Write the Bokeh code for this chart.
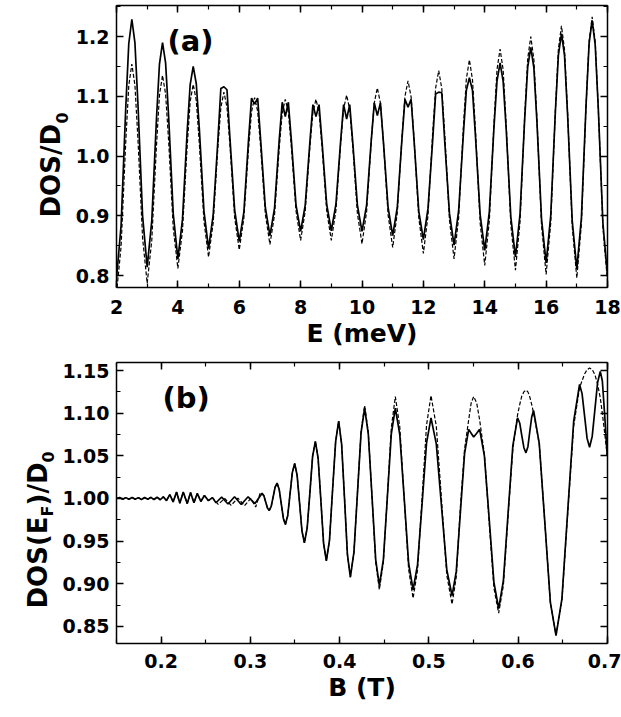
import math
from bokeh.plotting import figure
from bokeh.models import LinearAxis, SingleIntervalTicker, NumeralTickFormatter, Label, Range1d
from bokeh.layouts import column, row
from bokeh.core.properties import value
from bokeh.embed import file_html
from bokeh.resources import INLINE

FONT = "DejaVu Sans"

# ---------------- Panel (a): DOS/D0 versus E (meV) ----------------
E_a = [
    2.0, 2.15, 2.3, 2.4, 2.5, 2.6, 2.7, 2.85,
    3.0, 3.15, 3.3, 3.4, 3.5, 3.6, 3.7, 3.85,
    4.0, 4.15, 4.3, 4.4, 4.5, 4.6, 4.7, 4.85,
    5.0, 5.15, 5.3, 5.4, 5.5, 5.6, 5.7, 5.85,
    6.0, 6.15, 6.3, 6.4, 6.5, 6.6, 6.7, 6.85,
    7.0, 7.15, 7.3, 7.4, 7.5, 7.6, 7.7, 7.85,
    8.0, 8.15, 8.3, 8.4, 8.5, 8.6, 8.7, 8.85,
    9.0, 9.15, 9.3, 9.4, 9.5, 9.6, 9.7, 9.85,
    10.0, 10.15, 10.3, 10.4, 10.5, 10.6, 10.7, 10.85,
    11.0, 11.15, 11.3, 11.4, 11.5, 11.6, 11.7, 11.85,
    12.0, 12.15, 12.3, 12.4, 12.5, 12.6, 12.7, 12.85,
    13.0, 13.15, 13.3, 13.4, 13.5, 13.6, 13.7, 13.85,
    14.0, 14.15, 14.3, 14.4, 14.5, 14.6, 14.7, 14.85,
    15.0, 15.15, 15.3, 15.4, 15.5, 15.6, 15.7, 15.85,
    16.0, 16.15, 16.3, 16.4, 16.5, 16.6, 16.7, 16.85,
    17.0, 17.15, 17.3, 17.4, 17.5, 17.6, 17.7, 17.85,
    18.0,
]
dos_a_solid = [
    0.795, 0.884, 1.079, 1.188, 1.229, 1.190, 1.086, 0.900,
    0.814, 0.892, 1.060, 1.154, 1.190, 1.156, 1.065, 0.903,
    0.828, 0.894, 1.039, 1.119, 1.150, 1.121, 1.045, 0.908,
    0.845, 0.901, 1.023, 1.113, 1.116, 1.111, 1.027, 0.910,
    0.857, 0.906, 1.025, 1.097, 1.087, 1.097, 1.025, 0.914,
    0.867, 0.913, 1.025, 1.090, 1.066, 1.090, 1.025, 0.918,
    0.874, 0.918, 1.022, 1.086, 1.066, 1.086, 1.022, 0.919,
    0.875, 0.919, 1.022, 1.086, 1.062, 1.086, 1.022, 0.918,
    0.874, 0.918, 1.025, 1.089, 1.068, 1.089, 1.022, 0.914,
    0.867, 0.914, 1.027, 1.095, 1.082, 1.095, 1.024, 0.908,
    0.860, 0.912, 1.024, 1.104, 1.107, 1.106, 1.021, 0.904,
    0.851, 0.909, 1.034, 1.110, 1.131, 1.110, 1.031, 0.902,
    0.842, 0.907, 1.048, 1.126, 1.156, 1.125, 1.044, 0.898,
    0.831, 0.903, 1.061, 1.149, 1.182, 1.148, 1.058, 0.895,
    0.821, 0.900, 1.073, 1.169, 1.205, 1.168, 1.069, 0.892,
    0.811, 0.897, 1.084, 1.188, 1.227, 1.186, 1.080, 0.888,
    0.800,
]
dos_a_dashed = [
    0.770, 0.849, 1.022, 1.118, 1.154, 1.119, 1.027, 0.863,
    0.787, 0.859, 1.015, 1.102, 1.135, 1.104, 1.024, 0.879,
    0.812, 0.875, 1.014, 1.091, 1.120, 1.093, 1.020, 0.891,
    0.831, 0.888, 1.012, 1.081, 1.107, 1.082, 1.016, 0.897,
    0.843, 0.896, 1.010, 1.074, 1.098, 1.075, 1.013, 0.903,
    0.852, 0.902, 1.011, 1.072, 1.095, 1.073, 1.014, 0.908,
    0.859, 0.908, 1.014, 1.073, 1.095, 1.073, 1.014, 0.908,
    0.859, 0.909, 1.018, 1.079, 1.102, 1.078, 1.016, 0.904,
    0.853, 0.907, 1.024, 1.089, 1.114, 1.089, 1.022, 0.902,
    0.847, 0.905, 1.030, 1.100, 1.126, 1.099, 1.026, 0.897,
    0.837, 0.900, 1.037, 1.114, 1.143, 1.113, 1.034, 0.893,
    0.828, 0.897, 1.046, 1.129, 1.161, 1.128, 1.042, 0.888,
    0.817, 0.892, 1.054, 1.145, 1.179, 1.144, 1.051, 0.885,
    0.809, 0.890, 1.065, 1.163, 1.200, 1.162, 1.063, 0.884,
    0.802, 0.888, 1.075, 1.179, 1.218, 1.178, 1.072, 0.883,
    0.796, 0.886, 1.082, 1.192, 1.233, 1.191, 1.080, 0.881,
    0.790,
]

# ---------------- Panel (b): DOS(E_F)/D0 versus B (T) ----------------
B_solid = [
    0.1500, 0.1535, 0.1570, 0.1605, 0.1640, 0.1675, 0.1710, 0.1745, 0.1780, 0.1815,
    0.1850, 0.1885, 0.1920, 0.1955, 0.1990, 0.2025, 0.2060, 0.2097, 0.2135, 0.2173,
    0.2210, 0.2248, 0.2293, 0.2330, 0.2368, 0.2406, 0.2445, 0.2485, 0.2530, 0.2575,
    0.2615, 0.2678, 0.2750, 0.2823, 0.2898, 0.2975, 0.3052, 0.3132,
    0.3152, 0.3172, 0.3192, 0.3212, 0.3234, 0.3256, 0.3278, 0.3300,
    0.3323, 0.3347, 0.3370, 0.3393, 0.3419, 0.3445, 0.3471, 0.3497,
    0.3524, 0.3552, 0.3579, 0.3606, 0.3637, 0.3668, 0.3698, 0.3729,
    0.3760, 0.3791, 0.3821, 0.3852, 0.3887, 0.3921, 0.3956, 0.3990,
    0.4023, 0.4056, 0.4088, 0.4121, 0.4161, 0.4201, 0.4241, 0.4281,
    0.4322, 0.4364, 0.4405, 0.4446, 0.4491, 0.4536, 0.4580, 0.4625,
    0.4675, 0.4725, 0.4774, 0.4824, 0.4874, 0.4925, 0.4975, 0.5025,
    0.5084, 0.5143, 0.5202, 0.5261, 0.5308, 0.5354, 0.5401, 0.5447,
    0.5475, 0.5503, 0.5537, 0.5570, 0.5623, 0.5677, 0.5730, 0.5783,
    0.5836, 0.5889, 0.5942, 0.5995, 0.6019, 0.6042, 0.6066, 0.6089,
    0.6111, 0.6132, 0.6154, 0.6175, 0.6238, 0.6301, 0.6363, 0.6426,
    0.6492, 0.6558, 0.6624, 0.6690, 0.6718, 0.6746, 0.6774, 0.6802,
    0.6832, 0.6862, 0.6892, 0.6922, 0.6945, 0.6970, 0.7000,
]
dos_b_solid = [
    1.0000, 1.0012, 0.9990, 1.0010, 0.9990, 1.0012, 0.9990, 1.0010, 0.9988, 1.0012,
    0.9990, 1.0013, 0.9988, 1.0015, 0.9985, 1.0020, 0.9975, 1.0045, 0.9960, 1.0075,
    0.9945, 1.0075, 0.9940, 1.0070, 0.9950, 1.0060, 0.9965, 1.0035, 0.9975, 1.0010,
    0.9950, 1.0015, 0.9935, 1.0020, 0.9930, 1.0020, 0.9940, 1.0060,
    1.0031, 0.9960, 0.9889, 0.9860, 0.9907, 1.0020, 1.0133, 1.0180,
    1.0109, 0.9938, 0.9766, 0.9695, 0.9799, 1.0053, 1.0306, 1.0410,
    1.0274, 0.9945, 0.9616, 0.9480, 0.9654, 1.0075, 1.0496, 1.0670,
    1.0466, 0.9970, 0.9474, 0.9270, 0.9509, 1.0088, 1.0667, 1.0906,
    1.0639, 0.9992, 0.9344, 0.9077, 0.9367, 1.0069, 1.0770, 1.1060,
    1.0756, 1.0020, 0.9284, 0.8980, 0.9284, 1.0020, 1.0756, 1.1060,
    1.0749, 0.9995, 0.9241, 0.8930, 0.9224, 0.9938, 1.0651, 1.0945,
    1.0641, 0.9903, 0.9164, 0.8860, 0.9145, 0.9835, 1.0525, 1.0810,
    1.0765, 1.0720, 1.0765, 1.0810, 1.0503, 0.9760, 0.9017, 0.8710,
    0.9036, 0.9828, 1.0619, 1.0945, 1.0885, 1.0740, 1.0595, 1.0535,
    1.0607, 1.0783, 1.0958, 1.1030, 1.0645, 0.9712, 0.8778, 0.8393,
    0.8823, 0.9865, 1.0906, 1.1336, 1.1229, 1.0968, 1.0707, 1.0600,
    1.0730, 1.1045, 1.1360, 1.1490, 1.1380, 1.1000, 1.0500,
]
B_dashed = [
    0.1500, 0.1535, 0.1570, 0.1605, 0.1640, 0.1675, 0.1710, 0.1745, 0.1780, 0.1815,
    0.1850, 0.1885, 0.1920, 0.1955, 0.1990, 0.2025, 0.2060, 0.2097, 0.2135, 0.2173,
    0.2210, 0.2248, 0.2293, 0.2330, 0.2368, 0.2406, 0.2445, 0.2485, 0.2530, 0.2575,
    0.2640, 0.2712, 0.2785, 0.2860, 0.2935, 0.3005, 0.3060, 0.3112,
    0.3152, 0.3172, 0.3192, 0.3212, 0.3234, 0.3256, 0.3278, 0.3300,
    0.3323, 0.3347, 0.3370, 0.3393, 0.3419, 0.3445, 0.3471, 0.3497,
    0.3524, 0.3552, 0.3579, 0.3606, 0.3637, 0.3668, 0.3698, 0.3729,
    0.3760, 0.3791, 0.3821, 0.3852, 0.3887, 0.3921, 0.3956, 0.3990,
    0.4023, 0.4056, 0.4088, 0.4121, 0.4161, 0.4201, 0.4241, 0.4281,
    0.4322, 0.4364, 0.4405, 0.4446, 0.4491, 0.4536, 0.4580, 0.4625,
    0.4675, 0.4725, 0.4774, 0.4824, 0.4874, 0.4925, 0.4975, 0.5025,
    0.5084, 0.5143, 0.5202, 0.5261, 0.5308, 0.5354, 0.5401, 0.5447,
    0.5475, 0.5503, 0.5537, 0.5570, 0.5623, 0.5677, 0.5730, 0.5783,
    0.5836, 0.5889, 0.5942, 0.5995, 0.6019, 0.6042, 0.6066, 0.6089,
    0.6111, 0.6132, 0.6154, 0.6175, 0.6238, 0.6301, 0.6363, 0.6426,
    0.6492, 0.6558, 0.6624, 0.6690, 0.6718, 0.6746, 0.6774, 0.6802,
    0.6832, 0.6862, 0.6892, 0.6922, 0.6945, 0.6970, 0.7000,
]
dos_b_dashed = [
    1.0000, 1.0012, 0.9990, 1.0010, 0.9990, 1.0012, 0.9990, 1.0010, 0.9988, 1.0012,
    0.9990, 1.0013, 0.9988, 1.0015, 0.9985, 1.0020, 0.9975, 1.0045, 0.9960, 1.0075,
    0.9945, 1.0075, 0.9940, 1.0070, 0.9950, 1.0060, 0.9965, 1.0035, 0.9975, 1.0010,
    0.9930, 1.0000, 0.9920, 1.0005, 0.9915, 1.0000, 0.9900, 1.0070,
    1.0031, 0.9960, 0.9889, 0.9860, 0.9907, 1.0020, 1.0133, 1.0180,
    1.0109, 0.9938, 0.9766, 0.9695, 0.9799, 1.0053, 1.0306, 1.0410,
    1.0274, 0.9945, 0.9616, 0.9480, 0.9654, 1.0075, 1.0496, 1.0670,
    1.0466, 0.9970, 0.9474, 0.9270, 0.9509, 1.0088, 1.0667, 1.0906,
    1.0639, 0.9992, 0.9344, 0.9077, 0.9367, 1.0069, 1.0790, 1.1090,
    1.0780, 1.0010, 0.9250, 0.8930, 0.9250, 1.0030, 1.0830, 1.1195,
    1.0840, 0.9990, 0.9170, 0.8830, 0.9160, 1.0010, 1.0860, 1.1207,
    1.0850, 0.9980, 0.9100, 0.8760, 0.9080, 0.9900, 1.0580, 1.0920,
    1.1120, 1.1195, 1.1120, 1.0920, 1.0520, 0.9720, 0.8950, 0.8655,
    0.8980, 0.9800, 1.0580, 1.0980, 1.1100, 1.1200, 1.1250, 1.1270,
    1.1250, 1.1190, 1.1100, 1.1000, 1.0645, 0.9712, 0.8778, 0.8400,
    0.8800, 0.9840, 1.0850, 1.1300, 1.1380, 1.1460, 1.1510, 1.1530,
    1.1510, 1.1450, 1.1340, 1.1180, 1.1000, 1.0780, 1.0500,
]

# ---------------- layout (page pixels, page origin at top-left) ----------------
W = 621
HA, HB = 356, 358
A_X, A_Y = (2.0, 18.0), (0.78, 1.252)
B_X, B_Y = (0.15, 0.7003), (0.830, 1.1594)
A_FR = dict(l=116, r=607, t=5, b=287)
B_FR = dict(l=116, r=607, t=362, b=643)
LAB_A_W, LAB_B_W = 72, 58   # width of the strips that hold the y-axis titles


def to_data(fr, xr, yr, px, py):
    x = xr[0] + (px - fr["l"]) * (xr[1] - xr[0]) / (fr["r"] - fr["l"])
    y = yr[1] - (py - fr["t"]) * (yr[1] - yr[0]) / (fr["b"] - fr["t"])
    return x, y


def style(p, xt, yt, xfmt, yfmt, xlabel):
    bottom, left = p.below[0], p.left[0]
    for ax in (bottom, left):
        ax.axis_line_width = 1.5
        ax.axis_line_color = "black"
        ax.major_tick_line_width = 1.5
        ax.minor_tick_line_width = 1.2
        ax.major_tick_in = 7
        ax.major_tick_out = 0
        ax.minor_tick_in = 4
        ax.minor_tick_out = 0
        ax.major_label_text_font = FONT
        ax.major_label_text_font_style = "bold"
        ax.major_label_text_font_size = "19px"
        ax.major_label_text_color = "black"
        ax.axis_label_text_font = FONT
        ax.axis_label_text_font_style = "bold"
        ax.axis_label_text_font_size = "25px"
        ax.axis_label_text_color = "black"
    bottom.ticker = xt
    left.ticker = yt
    bottom.formatter = NumeralTickFormatter(format=xfmt)
    left.formatter = NumeralTickFormatter(format=yfmt)
    bottom.major_label_standoff = 12
    bottom.axis_label_standoff = 2
    bottom.axis_label = xlabel
    left.major_label_standoff = 7
    for side, tk in (("above", xt), ("right", yt)):
        ax = LinearAxis(ticker=tk, major_label_text_font_size="1px",
                        major_label_text_color=None,
                        major_label_standoff=0, major_tick_in=7, major_tick_out=0,
                        minor_tick_in=4, minor_tick_out=0, axis_line_width=1.5,
                        major_tick_line_width=1.5, minor_tick_line_width=1.2)
        p.add_layout(ax, side)
    p.xgrid.visible = False
    p.ygrid.visible = False
    p.outline_line_color = None
    p.background_fill_color = "white"
    p.border_fill_color = "white"


def strip(width, height):
    s = figure(frame_width=width, frame_height=height, x_range=Range1d(0, width),
               y_range=Range1d(0, height), output_backend="svg",
               toolbar_location=None, x_axis_location=None, y_axis_location=None,
               min_border=0, min_border_left=0, min_border_right=0,
               min_border_top=0, min_border_bottom=0)
    s.grid.visible = False
    s.outline_line_color = None
    s.background_fill_color = "white"
    s.border_fill_color = "white"
    return s


def vtext(s, px, py, top, height, text, size):
    # px, py: page pixels of the text start (baseline), rotated to read upwards
    s.text(x=[px], y=[height - (py - top)], text=[text], angle=math.pi / 2,
           text_font=value(FONT), text_font_style="bold", text_font_size=value(size),
           text_align="left", text_baseline="alphabetic", text_color="black")


def label(p, fr, xr, yr, px, py, text, size):
    x, y = to_data(fr, xr, yr, px, py)
    p.add_layout(Label(x=x, y=y, text=text, text_align="left", text_baseline="middle",
                       text_font=FONT, text_font_style="bold",
                       text_font_size=size, text_color="black"))


# ---------------- panel (a) ----------------
pA = figure(width=W - LAB_A_W, height=HA, x_range=Range1d(*A_X), y_range=Range1d(*A_Y),
            output_backend="svg", toolbar_location=None,
            min_border_left=A_FR["l"] - LAB_A_W, min_border_right=W - A_FR["r"],
            min_border_top=A_FR["t"], min_border_bottom=HA - A_FR["b"])
pA.line(E_a, dos_a_dashed, line_color="black", line_width=1.2, line_dash="4 2")
pA.line(E_a, dos_a_solid, line_color="black", line_width=1.7)
style(pA, SingleIntervalTicker(interval=2, num_minor_ticks=2),
      SingleIntervalTicker(interval=0.1, num_minor_ticks=2), "0", "0.0", "E (meV)")
label(pA, A_FR, A_X, A_Y, 167, 40, "(a)", "29px")

sA = strip(LAB_A_W, HA)
vtext(sA, 50, 212, 0, HA, "DOS/D", "26px")
vtext(sA, 61, 118, 0, HA, "0", "16px")

# ---------------- panel (b) ----------------
pB = figure(width=W - LAB_B_W, height=HB, x_range=Range1d(*B_X), y_range=Range1d(*B_Y),
            output_backend="svg", toolbar_location=None,
            min_border_left=B_FR["l"] - LAB_B_W, min_border_right=W - B_FR["r"],
            min_border_top=B_FR["t"] - HA, min_border_bottom=HA + HB - B_FR["b"])
pB.line(B_dashed, dos_b_dashed, line_color="black", line_width=1.2, line_dash="4 2")
pB.line(B_solid, dos_b_solid, line_color="black", line_width=1.7)
style(pB, SingleIntervalTicker(interval=0.1, num_minor_ticks=2),
      SingleIntervalTicker(interval=0.05, num_minor_ticks=2), "0.0", "0.00", "B (T)")
pB.below[0].major_label_standoff = 10
label(pB, B_FR, B_X, B_Y, 162, 397, "(b)", "29px")

sB = strip(LAB_B_W, HB)
vtext(sB, 37, 602, HA, HB, "DOS(E", "26px")
vtext(sB, 47, 510, HA, HB, "F", "16px")
vtext(sB, 37, 499, HA, HB, ")/D", "26px")
vtext(sB, 47, 456, HA, HB, "0", "16px")

layout = column(row(sA, pA), row(sB, pB))
open("out.html", "w").write(file_html(layout, INLINE))
